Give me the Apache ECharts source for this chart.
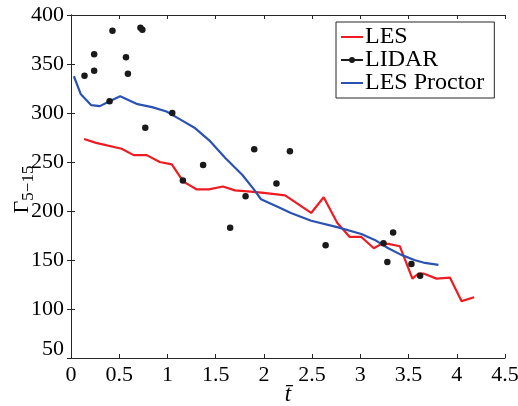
<!DOCTYPE html>
<html>
<head>
<meta charset="utf-8">
<script src="https://cdn.jsdelivr.net/npm/echarts@6/dist/echarts.min.js"></script>
<style>html,body{margin:0;padding:0;background:#fff}#c{width:518px;height:406px}</style>
</head>
<body>
<div id="c"></div>
<script>
// LIDAR measurements
const lidarT = [0.14,0.24,0.24,0.43,0.40,0.57,0.59,0.72,0.74,0.77,1.05,1.16,1.37,1.65,1.81,1.90,2.13,2.27,2.64,3.24,3.28,3.34,3.53,3.62];
const lidarV = [338,360,343,384,312,357,340,387,385,285,300,231,247,183,215,263,228,261,165,167,148,178,146,134];
// LES
const lesT = [0.135,0.26,0.525,0.65,0.785,0.92,1.045,1.165,1.305,1.43,1.575,1.70,1.83,1.95,2.09,2.22,2.49,2.62,2.76,2.89,3.01,3.14,3.22,3.29,3.41,3.54,3.60,3.66,3.79,3.93,4.05,4.18];
const lesV = [273.5,269.5,263.5,257,257,250,247.5,230,222,222,225,221,220,219,217.5,216,198,214,188,173.5,173.5,162,166.5,166.5,164,131,136,136,131,132,108,112];
// LES Proctor
const procT = [0.03,0.10,0.21,0.30,0.40,0.51,0.69,0.84,0.99,1.14,1.28,1.445,1.60,1.775,1.90,1.97,2.17,2.28,2.49,2.76,3.01,3.15,3.29,3.42,3.56,3.67,3.81];
const procV = [337.5,319.5,308,307,312,317,309,306,301.5,293,285,271,254,237,221.5,212,203,198,190,183.5,176.5,170.5,162,155.5,150,147,145];
// axis ticks
const xTicks = {min: 0, max: 4.5, interval: 0.5};
const yTicks = {min: 50, max: 400, interval: 50};

const zip = (a, b) => a.map((v, i) => [v, b[i]]);
const FONT = 'Liberation Serif';
const AX = '#262626';
const LINE_ICON = 'path://M0,0 H22 V2 H0 Z';
const DOT_ICON = 'path://M0,3 H22 V5 H0 Z M14,4 A3,3 0 1 1 8,4 A3,3 0 1 1 14,4 Z';

const chart = echarts.init(document.getElementById('c'), null, {renderer: 'canvas'});
const baseAxis = {
  axisLine: {show: true, lineStyle: {color: AX, width: 1}},
  axisTick: {show: true, inside: true, length: 4, lineStyle: {color: AX}},
  splitLine: {show: false}
};
chart.setOption({
  animation: false,
  backgroundColor: '#fff',
  grid: {left: 71, right: 13, top: 15, bottom: 48, containLabel: false, outerBoundsMode: 'none'},
  legend: {
    left: 336, top: 22,
    orient: 'vertical',
    padding: [3, 10, 3, 5],
    itemGap: -1,
    itemWidth: 22, itemHeight: 12,
    borderColor: AX, borderWidth: 1,
    backgroundColor: '#fff',
    textStyle: {fontFamily: FONT, fontSize: 24, color: '#000', lineHeight: 21, padding: [0, 0, 0, -3]},
    data: [
      {name: 'LES', icon: LINE_ICON},
      {name: 'LIDAR', icon: DOT_ICON},
      {name: 'LES Proctor', icon: LINE_ICON}
    ]
  },
  xAxis: [
    Object.assign({}, baseAxis, {
      type: 'value', position: 'bottom', min: xTicks.min, max: xTicks.max, interval: xTicks.interval,
      name: 't\u0304', nameLocation: 'middle', nameGap: 25, nameMoveOverlap: false,
      nameTextStyle: {fontFamily: FONT, fontSize: 23, fontStyle: 'italic', color: '#000'},
      axisLabel: {fontFamily: FONT, fontSize: 22, color: '#000', margin: 6}
    }),
    Object.assign({}, baseAxis, {
      type: 'value', position: 'top', min: xTicks.min, max: xTicks.max, interval: xTicks.interval,
      axisLabel: {show: false}
    })
  ],
  yAxis: [
    Object.assign({}, baseAxis, {
      type: 'value', position: 'left', min: yTicks.min, max: yTicks.max, interval: yTicks.interval,
      name: '{g|\u0393}{s|5\u221215}', nameLocation: 'middle', nameRotate: 90, nameGap: 34, nameMoveOverlap: false,
      nameTextStyle: {
        color: '#000',
        padding: [0, 6, 0, 0],
        rich: {
          g: {fontFamily: FONT, fontSize: 22, color: '#000'},
          s: {fontFamily: FONT, fontSize: 17, color: '#000', padding: [12, 0, 0, 0]}
        }
      },
      axisLabel: {
        fontFamily: FONT, fontSize: 22, color: '#000', margin: 7,
        formatter: v => v === 50 ? '{r|50}' : String(v),
        rich: {r: {fontFamily: FONT, fontSize: 22, color: '#000', padding: [0, 0, 18, 0]}}
      }
    }),
    Object.assign({}, baseAxis, {
      type: 'value', position: 'right', min: yTicks.min, max: yTicks.max, interval: yTicks.interval,
      axisLabel: {show: false}
    })
  ],
  series: [
    {
      name: 'LES', type: 'line', data: zip(lesT, lesV), symbol: 'none',
      lineStyle: {color: '#ee1c22', width: 2.2}, itemStyle: {color: '#ee1c22'}, z: 3
    },
    {
      name: 'LIDAR', type: 'scatter', data: zip(lidarT, lidarV), symbol: 'circle', symbolSize: 6.5,
      itemStyle: {color: '#1a1a1a', opacity: 1}, z: 5
    },
    {
      name: 'LES Proctor', type: 'line', data: zip(procT, procV), symbol: 'none',
      lineStyle: {color: '#2b52b3', width: 2.2}, itemStyle: {color: '#2b52b3'}, z: 4
    }
  ]
});
</script>
</body>
</html>
